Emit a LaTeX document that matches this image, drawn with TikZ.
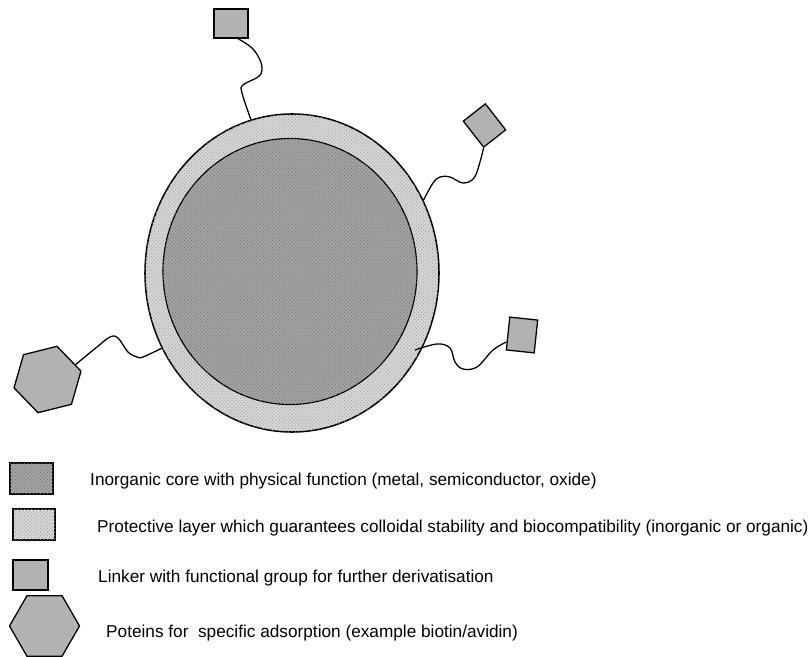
\documentclass[tikz,border=0pt]{standalone}
\usepackage{fontspec}
\setmainfont{Liberation Sans}
\usepackage{tikz}
\usetikzlibrary{shapes.geometric, patterns}
\definecolor{corefill}{gray}{0.64}
\definecolor{coredots}{gray}{0.46}
\definecolor{shellfill}{gray}{0.84}
\definecolor{shelldots}{gray}{0.62}
\definecolor{headfill}{gray}{0.70}
\tikzset{%
	core layer/.style={
		ellipse,
		draw,
		line width=1pt,
		fill=corefill,
		postaction={pattern=crosshatch dots, pattern color=coredots}
	},
	shell layer/.style={
		ellipse,
		draw,
		line width=1.3pt,
		fill=shellfill,
		postaction={pattern=crosshatch dots, pattern color=shelldots}
	},
	linker head/.style={
		rectangle,
		draw,
		line width=1.1pt,
		fill=headfill,
		inner sep=0pt
	},
	protein/.style={
		regular polygon,
		regular polygon sides=6,
		draw,
		line width=1.1pt,
		fill=headfill,
		inner sep=0pt
	},
	linker chain/.style={
		line width=1.1pt,
		smooth,
		tension=0.6
	},
	legend text/.style={
		anchor=west,
		inner sep=0pt,
		font=\fontsize{14.7}{17}\selectfont
	},
}

\begin{document}
\begin{tikzpicture}[x=0.03cm, y=-0.03cm]
			\useasboundingbox (0,0) rectangle (808,657);
			
			% Particle: protective layer and inorganic core
			\node[shell layer, minimum width=8.82cm, minimum height=9.54cm] (shell) at (292,273) {};
			\node[core layer, minimum width=7.62cm, minimum height=7.98cm] (core) at (290,271.5) {};
			
			% Linker heads and protein
			\node[linker head, minimum width=1.02cm, minimum height=0.87cm] (head1) at (231,23.5) {};
			\node[linker head, minimum width=0.84cm, minimum height=0.99cm, rotate=38] (head2) at (484.5,125.5) {};
			\node[linker head, minimum width=0.84cm, minimum height=0.99cm, rotate=-6] (head3) at (522,335) {};
			\node[protein, minimum size=2.07cm, rotate=14] (prot) at (47.5,379.5) {};
			
			\coordinate (att3) at (415,350);
			
			% Linker chains
			\draw[linker chain] plot coordinates {(head1.-65) (252,48) (260,60) (262,70) (258,77) (243,85) (242,93) (shell.105)};
			\draw[linker chain] plot coordinates {(head2.south west) (480,162) (474,178) (463,183) (450,177) (440,177) (433,183) (shell.29)};
			\draw[linker chain] plot coordinates {(head3.210) (493,350) (477,367) (463,369) (455,362) (450,348) (437,344) (att3)};
			\draw[linker chain] plot coordinates {(prot.14) (97,347) (110,337) (118,338) (128,352) (137,357) (143,357) (shell.210)};
			
			% Legend keys
			\node[core layer, rectangle, line width=1.1pt, inner sep=0pt, minimum width=1.29cm, minimum height=0.93cm] (key1) at (31.5,478.5) {};
			\node[shell layer, rectangle, line width=1.1pt, inner sep=0pt, minimum width=1.26cm, minimum height=0.93cm] (key2) at (34,524.5) {};
			\node[linker head, minimum width=1.05cm, minimum height=0.9cm] (key3) at (30.5,575) {};
			\node[protein, minimum size=2.1cm] (key4) at (44.5,626) {};
			
			% Legend texts
			\node[legend text] (leg1) at (90,481) {Inorganic core with physical function (metal, semiconductor, oxide)};
			\node[legend text] (leg2) at (97,528) {Protective layer which guarantees colloidal stability and biocompatibility (inorganic or organic)};
			\node[legend text] (leg3) at (98,578) {Linker with functional group for further derivatisation};
			\node[legend text] (leg4) at (106,633) {Poteins for \ specific adsorption (example biotin/avidin)};
		\end{tikzpicture}
\end{document}
